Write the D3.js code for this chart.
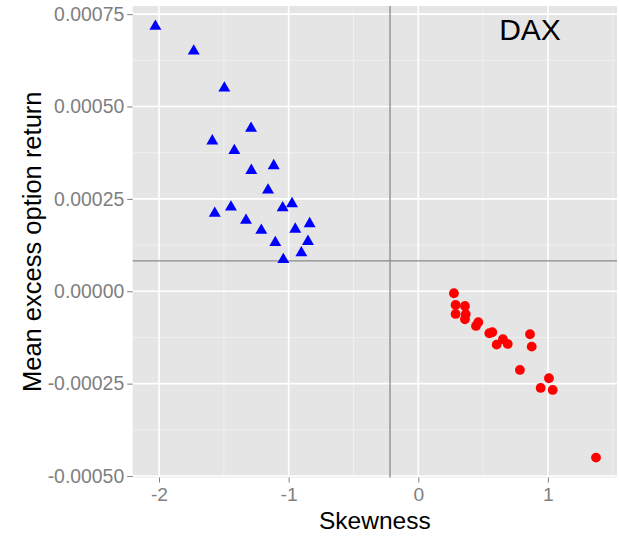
<!DOCTYPE html>
<html>
<head>
<meta charset="utf-8">
<script src="https://cdn.jsdelivr.net/npm/d3@7"></script>
<style>
  html, body { margin: 0; padding: 0; background: #ffffff; }
  svg { display: block; font-family: "Liberation Sans", Arial, sans-serif; }
</style>
</head>
<body>
<svg id="chart" width="619" height="537"></svg>
<script>
// ---- data ----
const negSkew = [-2.028, -1.732, -1.496, -1.290, -1.589, -1.419, -1.288, -1.115, -1.159, -1.570, -1.445,
                 -1.046, -0.974, -1.329, -1.211, -0.949, -0.838, -1.103, -0.851, -0.902, -1.041];
const negRet  = [0.000719, 0.000652, 0.000552, 0.000443, 0.000409, 0.000383, 0.000329, 0.000342, 0.000276,
                 0.000213, 0.000230, 0.000228, 0.000239, 0.000194, 0.000167, 0.000170, 0.000185, 0.000134,
                 0.000137, 0.000106, 0.000088];
const posSkew = [0.275, 0.288, 0.360, 0.288, 0.366, 0.360, 0.463, 0.445, 0.548, 0.571, 0.605, 0.653, 0.690,
                 0.862, 0.875, 0.784, 1.008, 0.944, 1.037, 1.371];
const posRet  = [-0.0000054, -0.0000371, -0.0000398, -0.0000614, -0.0000622, -0.0000758, -0.0000839,
                 -0.0000939, -0.0001136, -0.0001109, -0.0001445, -0.0001299, -0.0001426, -0.0001163,
                 -0.0001499, -0.0002129, -0.0002354, -0.0002616, -0.0002670, -0.0004502];
const refX = -0.218;
const refY = 0.000082;
const xTicks = [-2, -1, 0, 1];
const xMinor = [-1.5, -0.5, 0.5, 1.5];
const yTicks = [0.00075, 0.0005, 0.00025, 0, -0.00025, -0.0005];
const yTickLabels = ["0.00075", "0.00050", "0.00025", "0.00000", "-0.00025", "-0.00050"];
const yMinor = [0.000625, 0.000375, 0.000125, -0.000125, -0.000375];
const xDomain = [-2.203, 1.533];
const yDomain = [-0.000504, 0.000772];
const panelLabel = "DAX";
const labelPos = [0.862, 0.000710];
const xTitle = "Skewness";
const yTitle = "Mean excess option return";

// ---- layout ----
const L = 132.7, R = 617, T = 6, B = 477.5;
const svg = d3.select("#chart");
const x = d3.scaleLinear().domain(xDomain).range([L, R]);
const y = d3.scaleLinear().domain(yDomain).range([B, T]);

// panel
svg.append("rect").attr("x", L).attr("y", T).attr("width", R - L).attr("height", B - T).attr("fill", "#e5e5e5");

// minor grid
const g = svg.append("g");
g.selectAll(".xm").data(xMinor).enter().append("line")
  .attr("x1", d => x(d)).attr("x2", d => x(d)).attr("y1", T).attr("y2", B)
  .attr("stroke", "#f2f2f2").attr("stroke-width", 0.8);
g.selectAll(".ym").data(yMinor).enter().append("line")
  .attr("x1", L).attr("x2", R).attr("y1", d => y(d)).attr("y2", d => y(d))
  .attr("stroke", "#f2f2f2").attr("stroke-width", 0.8);
// major grid
g.selectAll(".xM").data(xTicks).enter().append("line")
  .attr("x1", d => x(d)).attr("x2", d => x(d)).attr("y1", T).attr("y2", B)
  .attr("stroke", "#ffffff").attr("stroke-width", 1.6);
g.selectAll(".yM").data(yTicks).enter().append("line")
  .attr("x1", L).attr("x2", R).attr("y1", d => y(d)).attr("y2", d => y(d))
  .attr("stroke", "#ffffff").attr("stroke-width", 1.6);

// reference lines
svg.append("line").attr("x1", x(refX)).attr("x2", x(refX)).attr("y1", T).attr("y2", B)
  .attr("stroke", "#8a8a8a").attr("stroke-width", 1.3);
svg.append("line").attr("x1", L).attr("x2", R).attr("y1", y(refY)).attr("y2", y(refY))
  .attr("stroke", "#8a8a8a").attr("stroke-width", 1.3);

// points: triangles
const tri = d3.symbol().type(d3.symbolTriangle).size(62);
const negData = negSkew.map((s, i) => ({ s, r: negRet[i] }));
svg.append("g").selectAll("path").data(negData).enter().append("path")
  .attr("d", tri)
  .attr("transform", d => `translate(${x(d.s)},${y(d.r) + 0.8})`)
  .attr("fill", "#0000ff");
// circles
const posData = posSkew.map((s, i) => ({ s, r: posRet[i] }));
svg.append("g").selectAll("circle").data(posData).enter().append("circle")
  .attr("cx", d => x(d.s)).attr("cy", d => y(d.r)).attr("r", 4.9)
  .attr("fill", "#ff0000");

// panel label
svg.append("text").attr("x", x(labelPos[0])).attr("y", y(labelPos[1]) + 11)
  .attr("text-anchor", "middle").attr("font-size", 30).attr("fill", "#000").text(panelLabel);

// axes
const xAxis = d3.axisBottom(x).tickValues(xTicks).tickSize(5).tickPadding(5).tickFormat(d3.format("d"));
const gx = svg.append("g").attr("transform", `translate(0,${B})`).call(xAxis);
gx.select(".domain").remove();
gx.selectAll(".tick line").attr("stroke", "#7f7f7f").attr("stroke-width", 1);
gx.selectAll(".tick text").attr("fill", "#7f7f7f").attr("font-size", 19.2)
  .attr("font-family", "Liberation Sans, Arial, sans-serif")
  .text(d => d < 0 ? "-" + Math.abs(d) : String(d));

const yAxis = d3.axisLeft(y).tickValues(yTicks).tickSize(5.5).tickPadding(3)
  .tickFormat((d, i) => yTickLabels[i]);
const gy = svg.append("g").attr("transform", `translate(${L},0)`).call(yAxis);
gy.select(".domain").remove();
gy.selectAll(".tick line").attr("stroke", "#7f7f7f").attr("stroke-width", 1);
gy.selectAll(".tick text").attr("fill", "#7f7f7f").attr("font-size", 19.4)
  .attr("font-family", "Liberation Sans, Arial, sans-serif");

// titles
svg.append("text").attr("x", (L + R) / 2).attr("y", 529)
  .attr("text-anchor", "middle").attr("font-size", 24.5).attr("fill", "#000").text(xTitle);
svg.append("text").attr("transform", `translate(41,${(T + B) / 2}) rotate(-90)`)
  .attr("text-anchor", "middle").attr("font-size", 25.5).attr("fill", "#000").text(yTitle);
</script>
</body>
</html>
